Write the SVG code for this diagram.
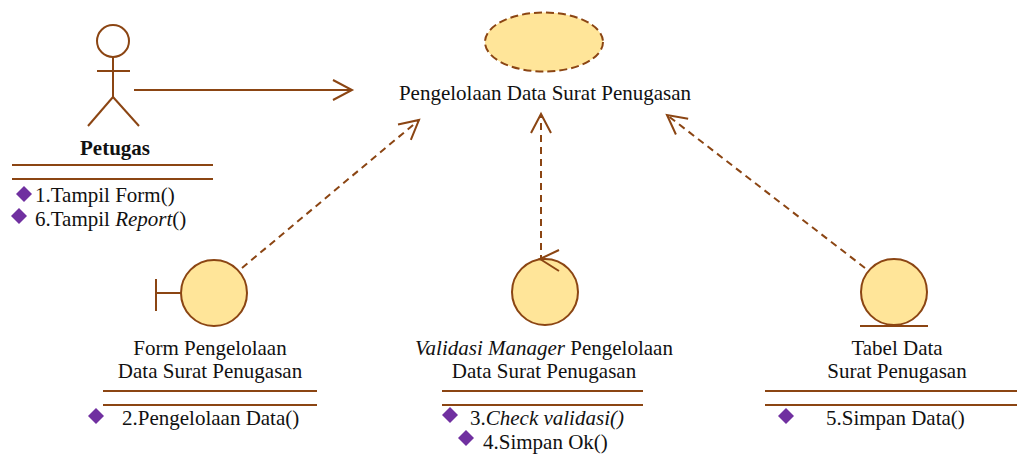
<svg xmlns="http://www.w3.org/2000/svg" width="1017" height="455" viewBox="0 0 1017 455">
<style>
text{font-family:"Liberation Serif","Times New Roman",serif;font-size:21px;fill:#111}
.c{text-anchor:middle}
.ln{stroke:#8B4513;stroke-width:2;fill:none}
.obj{fill:#FFE599;stroke:#8B4513;stroke-width:2}
.dash{stroke:#8B4513;stroke-width:2;fill:none;stroke-dasharray:7,5}
.dm{fill:#7030A0}
</style>
<defs>
<marker id="open" markerUnits="userSpaceOnUse" markerWidth="22" markerHeight="22" refX="19" refY="10" orient="auto" viewBox="0 0 22 22" overflow="visible">
<path d="M0,0 L19,10 L0,20" fill="none" stroke="#8B4513" stroke-width="2"/>
</marker>
<path id="dia" d="M0,-8 L8,0 L0,8 L-8,0 Z"/>
</defs>
<rect width="1017" height="455" fill="#fff"/>

<g id="connectors">
<line class="ln" x1="134" y1="90" x2="352" y2="90" marker-end="url(#open)"/>
<line class="dash" x1="242" y1="268" x2="419" y2="120" marker-end="url(#open)"/>
<line class="dash" x1="541" y1="262" x2="541" y2="114" marker-end="url(#open)"/>
<line class="dash" x1="865" y1="268" x2="667" y2="115" marker-end="url(#open)"/>
</g>

<g id="actor-petugas">
<circle class="ln" cx="113" cy="41" r="16"/>
<line class="ln" x1="113" y1="57" x2="113" y2="97"/>
<line class="ln" x1="97" y1="71" x2="130" y2="71"/>
<line class="ln" x1="113" y1="97" x2="88" y2="126"/>
<line class="ln" x1="113" y1="97" x2="139" y2="126"/>
<text class="c" x="115" y="155" font-weight="bold">Petugas</text>
<line class="ln" x1="12" y1="165" x2="213" y2="165"/>
<line class="ln" x1="12" y1="179" x2="213" y2="179"/>
<use href="#dia" class="dm" x="24" y="194"/>
<text x="35" y="202">1.Tampil Form()</text>
<use href="#dia" class="dm" x="19" y="216"/>
<text x="35" y="226">6.Tampil <tspan font-style="italic">Report</tspan>()</text>
</g>

<g id="usecase">
<ellipse cx="544" cy="42" rx="59" ry="29.5" fill="#FFE599" stroke="#8B4513" stroke-width="2" stroke-dasharray="8,4"/>
<text class="c" x="545" y="100">Pengelolaan Data Surat Penugasan</text>
</g>

<g id="boundary-form">
<line class="ln" x1="156" y1="293" x2="181" y2="293"/>
<line class="ln" x1="156" y1="279" x2="156" y2="311"/>
<circle class="obj" cx="214" cy="293" r="33"/>
<text class="c" x="210" y="355">Form Pengelolaan</text>
<text class="c" x="210" y="378">Data Surat Penugasan</text>
<line class="ln" x1="103" y1="391" x2="317" y2="391"/>
<line class="ln" x1="103" y1="405" x2="317" y2="405"/>
<use href="#dia" class="dm" x="96" y="416"/>
<text x="122" y="425">2.Pengelolaan Data()</text>
</g>

<g id="control-validasi">
<circle class="obj" cx="545" cy="292" r="33"/>
<polyline class="ln" points="559,250 540,259 559,271"/>
<text class="c" x="544" y="355"><tspan font-style="italic">Validasi Manager</tspan> Pengelolaan</text>
<text class="c" x="544" y="378">Data Surat Penugasan</text>
<line class="ln" x1="442" y1="391" x2="643" y2="391"/>
<line class="ln" x1="442" y1="405" x2="643" y2="405"/>
<use href="#dia" class="dm" x="450" y="415"/>
<text x="470" y="425">3.<tspan font-style="italic">Check validasi()</tspan></text>
<use href="#dia" class="dm" x="466" y="438"/>
<text x="483" y="449">4.Simpan Ok()</text>
</g>

<g id="entity-tabel">
<circle class="obj" cx="894" cy="292" r="33"/>
<line class="ln" x1="860" y1="326" x2="928" y2="326"/>
<text class="c" x="897" y="355">Tabel Data</text>
<text class="c" x="897" y="378">Surat Penugasan</text>
<line class="ln" x1="765" y1="391" x2="1017" y2="391"/>
<line class="ln" x1="765" y1="405" x2="1017" y2="405"/>
<use href="#dia" class="dm" x="786" y="416"/>
<text x="826" y="425">5.Simpan Data()</text>
</g>
</svg>
